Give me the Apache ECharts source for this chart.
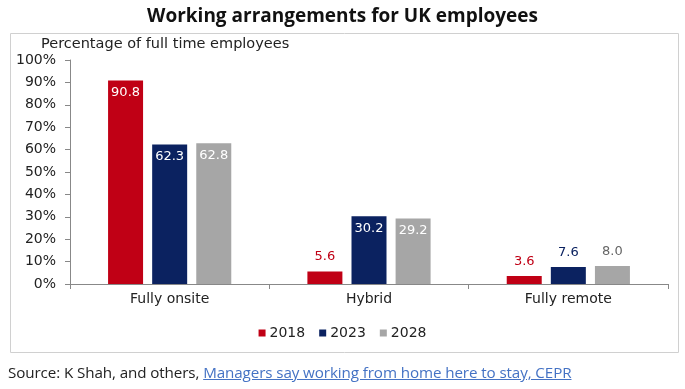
<!DOCTYPE html>
<html><head><meta charset="utf-8">
<script src="https://cdn.jsdelivr.net/npm/echarts@6/dist/echarts.min.js"></script>
<style>
html,body{margin:0;padding:0;background:#fff;}
#c{width:685px;height:389px;position:absolute;left:0;top:0;}
#src{position:absolute;left:8px;top:362px;font-family:"Open Sans","Liberation Sans",sans-serif;font-size:15.2px;color:#222;letter-spacing:-0.1px;white-space:nowrap;}
#src a{color:#4472C4;text-decoration:underline;}
</style></head>
<body>
<div id="c"></div>
<div id="src">Source: K Shah, and others, <a>Managers say working from home here to stay, CEPR</a></div>
<script>
var categories = ['Fully onsite', 'Hybrid', 'Fully remote'];
var seriesNames = ['2018', '2023', '2028'];
var values2018 = [90.8, 5.6, 3.6];
var values2023 = [62.3, 30.2, 7.6];
var values2028 = [62.8, 29.2, 8.0];
var yTicks = [0, 10, 20, 30, 40, 50, 60, 70, 80, 90, 100];

var colors = ['#C00015', '#0B2260', '#A6A6A6'];
var topLabelColors = ['#C00015', '#0B2260', '#666666'];
// which data points show label inside (white) vs on top (series colour)
var inside = [[true, false, false], [true, true, false], [true, true, false]];
var allValues = [values2018, values2023, values2028];

var chart = echarts.init(document.getElementById('c'), null, {renderer: 'canvas'});
var series = allValues.map(function (vals, si) {
  return {
    name: seriesNames[si],
    type: 'bar',
    barWidth: 35,
    barGap: '26%',
    itemStyle: {color: colors[si]},
    data: vals.map(function (v, ci) {
      var ins = inside[si][ci];
      return {
        value: v,
        label: {
          show: true,
          position: ins ? 'insideTop' : 'top',
          distance: ins ? 6 : 8,
          color: ins ? '#ffffff' : topLabelColors[si],
          fontSize: 13,
          fontFamily: 'DejaVu Sans',
          formatter: function (p) { return p.value.toFixed(1); }
        }
      };
    })
  };
});

chart.setOption({
  animation: false,
  title: {
    text: 'Working arrangements for UK employees',
    left: 'center', top: 2,
    textStyle: {fontFamily: 'Open Sans', fontWeight: 'bold', fontSize: 19, color: '#111'}
  },
  graphic: [
    {type: 'rect', shape: {x: 10.5, y: 33.5, width: 668, height: 319}, style: {fill: 'none', stroke: '#D0D0D0', lineWidth: 1}, z: -1},
    {type: 'text', left: 41, top: 37, style: {text: 'Percentage of full time employees', fontFamily: 'DejaVu Sans', fontSize: 14.5, fill: '#222'}}
  ],
  legend: {
    data: seriesNames,
    top: 321,
    left: 'center',
    itemWidth: 7, itemHeight: 7, itemGap: 14,
    icon: 'rect',
    textStyle: {fontFamily: 'DejaVu Sans', fontSize: 14, color: '#222', padding: [0, 0, 0, -1]}
  },
  grid: {left: 70, right: 17, top: 60, bottom: 105},
  xAxis: {
    type: 'category',
    data: categories,
    axisLine: {lineStyle: {color: '#888'}},
    axisTick: {show: true, length: 5, lineStyle: {color: '#888'}},
    axisLabel: {color: '#222', fontFamily: 'DejaVu Sans', fontSize: 14, margin: 8}
  },
  yAxis: {
    type: 'value',
    min: 0, max: 100, interval: 10,
    splitLine: {show: false},
    axisLine: {show: true, lineStyle: {color: '#888'}},
    axisTick: {show: true, length: 5, lineStyle: {color: '#888'}},
    axisLabel: {
      color: '#222', fontFamily: 'DejaVu Sans', fontSize: 14, margin: 14,
      formatter: function (v) { return yTicks.indexOf(v) >= 0 ? v + '%' : ''; }
    }
  },
  series: series
});
</script>
</body></html>
